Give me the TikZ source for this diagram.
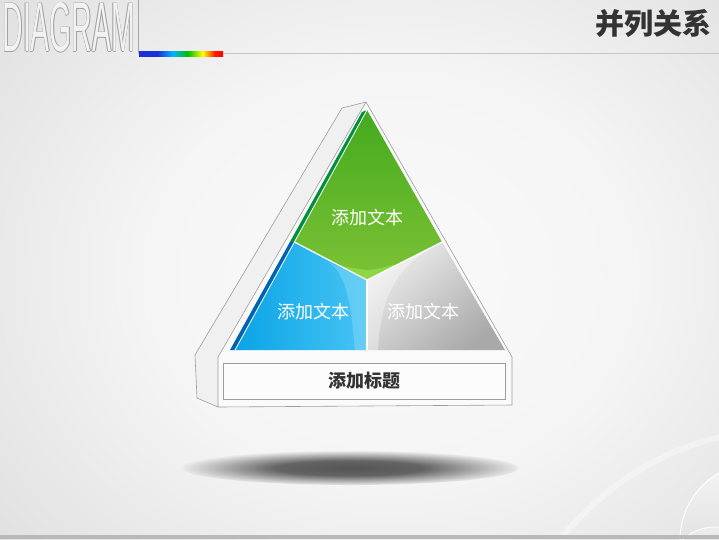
\documentclass[tikz,border=0pt]{standalone}
\usepackage{fontspec}
\usepackage{graphicx}
\setmainfont{Liberation Sans}
\newfontfamily\cjk{Noto Sans CJK SC}
\definecolor{bgc}{HTML}{E9E9E9}
\definecolor{shc}{HTML}{555555}
\definecolor{rbBlue}{HTML}{1A2FD8}
\definecolor{frameC}{HTML}{9C9C9C}
\definecolor{greenTop}{HTML}{44AA1E}
\definecolor{greenBot}{HTML}{7DC236}
\definecolor{blueL}{HTML}{0AA4E6}
\definecolor{blueR}{HTML}{48C4F4}
\definecolor{grayL}{HTML}{EDEDED}
\definecolor{grayD}{HTML}{A9A9A9}
\definecolor{titleC}{HTML}{333333}
\pgfdeclarehorizontalshading{rainbow}{100bp}{color(0bp)=(rbBlue); color(25bp)=(rbBlue); color(36bp)=(rbBlue); color(45bp)=(cyan!70!blue); color(54bp)=(green!75!black); color(63bp)=(yellow); color(70bp)=(red!80!orange); color(75bp)=(red); color(100bp)=(red)}
\pgfdeclareradialshading{shadowsh}{\pgfpoint{0bp}{0bp}}{color(0bp)=(shc); color(11bp)=(shc!90!bgc); color(25bp)=(bgc); color(50bp)=(bgc)}
\pgfdeclareradialshading{bgsh}{\pgfpoint{0bp}{0bp}}{color(0bp)=(white!98!black); color(12bp)=(white!96!black); color(25bp)=(white!88!black); color(50bp)=(white!80!black)}
\tikzset{
  frame/.style={draw=frameC, line width=0.6pt},
  divider/.style={draw=white, line width=1.2pt},
  label/.style={font=\cjk\fontsize{18}{20}\selectfont, text=white, inner sep=0pt},
  diagout/.style={inner sep=0pt, anchor=north west, text=gray!75},
}
\newcommand\diagword{\resizebox{132pt}{49pt}{DIAGRAM}}
\begin{document}
\begin{tikzpicture}[x=1pt,y=-1pt]
\useasboundingbox (0,0) rectangle (719,539);
\clip (0,0) rectangle (719,539);
% background
\shade[shading=bgsh] (-120,-150) rectangle (900,700);
% faint background arc
\draw[white, line width=6pt, opacity=0.35] (560,539) .. controls (620,470) and (680,440) .. (760,430);
% bottom-right circles
\shade[top color=white!96!black, bottom color=white!82!black] (757,540) circle (77);
\draw[white, line width=1pt] (757,540) circle (77);
\shade[top color=white!93!black, bottom color=white!80!black] (715,575) circle (48);
\draw[white, line width=0.8pt] (715,575) circle (48);
% bottom band
\fill[gray!55] (0,535) rectangle (719,539);
% header
\node[diagout] (d1) at (1.8,2.5) {\diagword};
\node[diagout] (d2) at (3.2,2.5) {\diagword};
\node[diagout] (d3) at (2.5,1.8) {\diagword};
\node[diagout] (d4) at (2.5,3.2) {\diagword};
\node[inner sep=0pt, anchor=north west, text=white!95!black] (dg) at (2.5,2.5) {\diagword};
\coordinate (vt) at (138,0);
\coordinate (vb) at (138,53);
\coordinate (hr) at (719,53);
\draw[gray!70, line width=0.8pt] (vt) -- (vb);
\draw[gray!45, line width=0.8pt] (vb) -- (hr);
\shade[shading=rainbow] (139,51) rectangle (223,56);
\node[font=\cjk\bfseries\fontsize{29}{32}\selectfont, text=titleC, inner sep=0pt] (title) at (653,23) {并列关系};
% shadow
\shade[shading=shadowsh] (350,468) ellipse [x radius=168, y radius=17];
% pyramid frame
\coordinate (A) at (366,102);
\coordinate (B) at (342,108);
\coordinate (L1) at (195,355);
\coordinate (L2) at (197,398);
\coordinate (L3) at (218,407);
\coordinate (FL) at (218,357);
\coordinate (FR) at (512,357);
\coordinate (BR) at (512,405);
\fill[white!94!black] (B) -- (A) -- (FL) -- (L3) -- (L2) -- (L1) -- cycle;
\fill[white!98!black] (FL) -- (A) -- (FR) -- (BR) -- (L3) -- cycle;
\draw[frame] (A) -- (B) -- (L1) -- (L2) -- (L3) -- (BR) -- (FR) -- (A) -- (FL) -- (L3);
% coloured triangle
\coordinate (P) at (367,110);
\coordinate (Q) at (235,350);
\coordinate (R) at (505,350);
\coordinate (S1) at (362,112);
\coordinate (S2) at (230,350);
\coordinate (SM) at (289.9,242);
\coordinate (DL) at (294.4,242);
\coordinate (DR) at (442,242);
\coordinate (M) at (367,280);
\coordinate (DB) at (367,350);
% strip
\fill[green!40!teal!80!black] (S1) -- (P) -- (DL) -- (SM) -- cycle;
\fill[blue!45!cyan!70!black] (SM) -- (DL) -- (Q) -- (S2) -- cycle;
% green
\shade[top color=greenTop, bottom color=greenBot] (P) -- (DR) -- (M) -- (DL) -- cycle;
\begin{scope}
\clip (P) -- (DR) -- (M) -- (DL) -- cycle;
\fill[green!50!yellow!60!white, opacity=0.35] (DL) .. controls (320,262) and (345,268) .. (367,270) .. controls (390,268) and (420,258) .. (DR) -- (M) -- cycle;
\end{scope}
% blue
\shade[left color=blueL, right color=blueR] (DL) -- (M) -- (DB) -- (Q) -- cycle;
\begin{scope}
\clip (DL) -- (M) -- (DB) -- (Q) -- cycle;
\fill[cyan!45!white, opacity=0.45] (328,262) .. controls (350,275) and (352,320) .. (355,352) -- (DB) -- (M) -- cycle;
\end{scope}
% gray
\shade[shading=axis, top color=grayL, bottom color=grayD, shading angle=40] (M) -- (DR) -- (R) -- (DB) -- cycle;
\begin{scope}
\clip (M) -- (DR) -- (R) -- (DB) -- cycle;
\fill[white, opacity=0.35] (432,248) .. controls (395,268) and (380,300) .. (378,352) -- (DB) -- (M) -- cycle;
\end{scope}
% dividers
\draw[divider] (DL) -- (M) -- (DR);
\draw[divider] (M) -- (DB);
\draw[white, line width=0.8pt] (P) -- (Q);
% labels
\node[label] (tg) at (367,218) {添加文本};
\node[label] (tb) at (313,312) {添加文本};
\node[label] (tr) at (423,312) {添加文本};
% title box
\node[draw=frameC, line width=0.6pt, fill=white!99!black, minimum width=282pt, minimum height=36pt, inner sep=0pt, font=\cjk\bfseries\fontsize{18}{20}\selectfont, text=titleC] (box) at (364,381) {添加标题};
\end{tikzpicture}
\end{document}
